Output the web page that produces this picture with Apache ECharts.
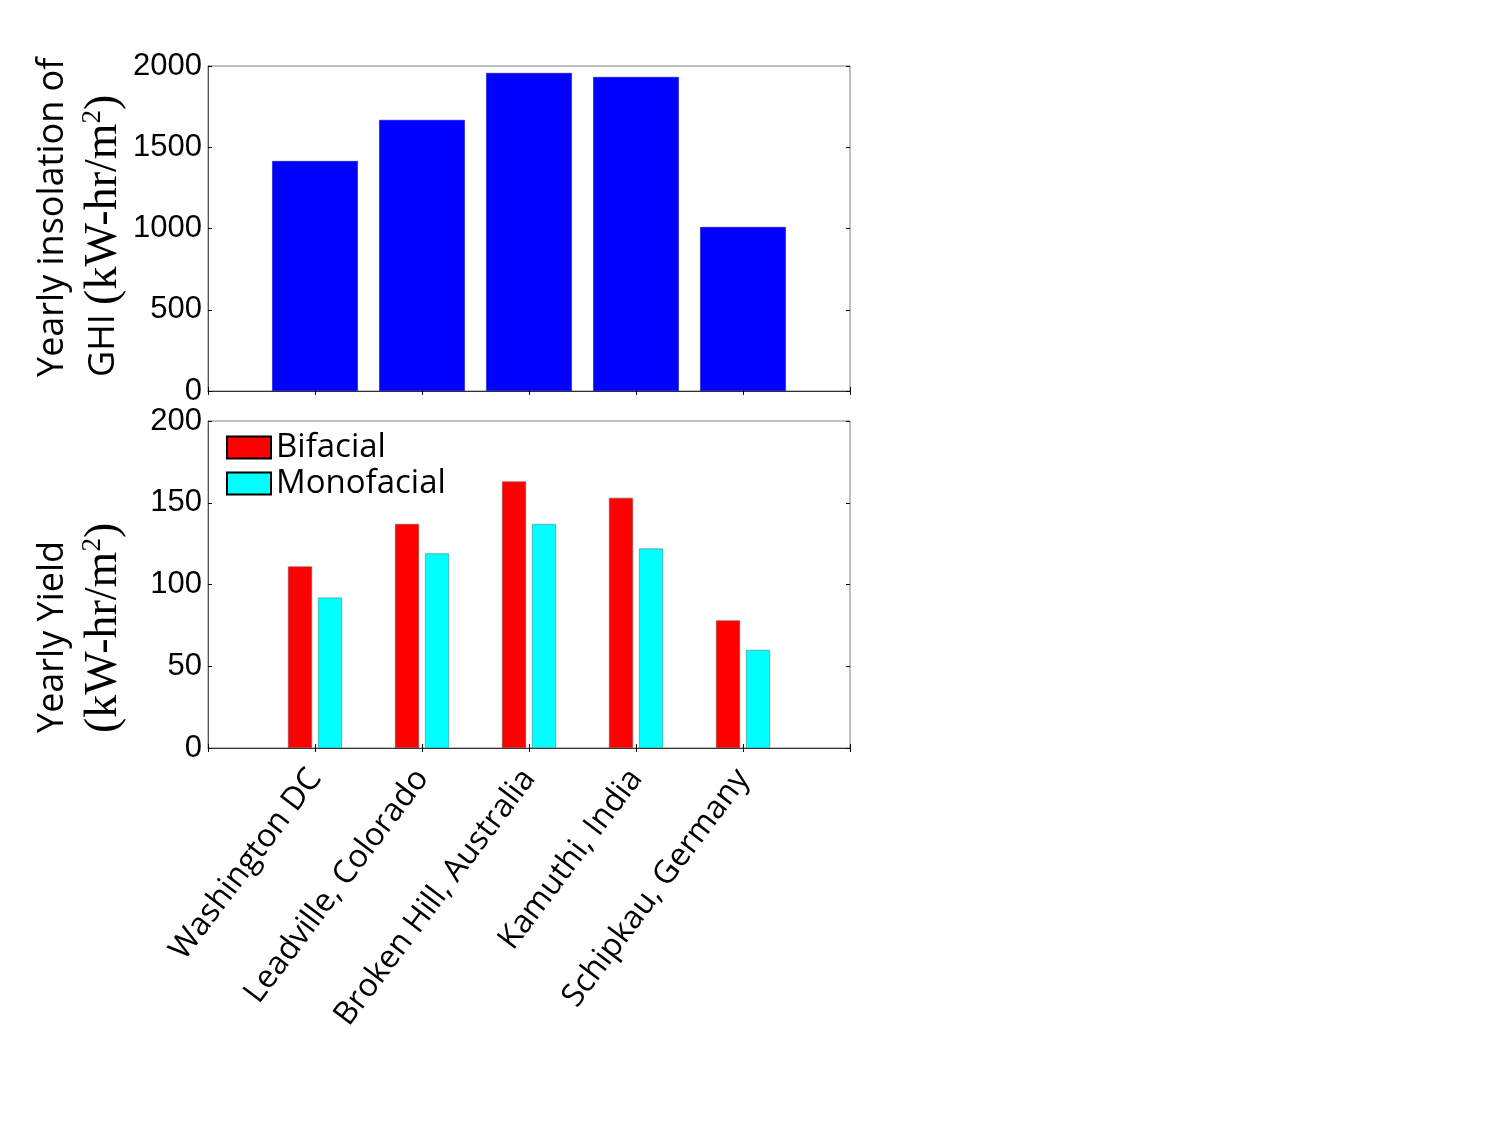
<!DOCTYPE html>
<html>
<head>
<meta charset="utf-8">
<script src="https://cdn.jsdelivr.net/npm/echarts@6/dist/echarts.min.js"></script>
<style>html,body{margin:0;padding:0;background:#fff}#c{width:1500px;height:1125px}</style>
</head>
<body>
<div id="c"></div>
<script>
// Data
const sites = ['Washington DC', 'Leadville, Colorado', 'Broken Hill, Australia', 'Kamuthi, India', 'Schipkau, Germany'];
const ghi = [1415, 1668, 1957, 1932, 1009];
const bifacial = [111, 137, 163, 153, 78];
const monofacial = [92, 119, 137, 122, 60];
const ghiTicks = { min: 0, max: 2000, interval: 500 };
const yieldTicks = { min: 0, max: 200, interval: 50 };

// category slots: one empty slot on each side (x-range 0..6, bars at 1..5)
const slots = [''].concat(sites, ['']);
const toPairs = arr => arr.map((v, i) => [i + 1, v]);

const chart = echarts.init(document.getElementById('c'), null, { renderer: 'canvas' });

const tickStyle = { show: true, inside: true, length: 4, lineStyle: { color: '#000', width: 1 } };
const labelFont = { fontFamily: 'Liberation Sans', fontSize: 31, color: '#000' };

function xAx(gridIndex, position, showLabel) {
  return {
    type: 'category', gridIndex, position, data: slots, boundaryGap: false,
    axisLine: { show: position === 'bottom', lineStyle: { color: '#333', width: 1 } },
    axisTick: Object.assign({ alignWithLabel: true, interval: 0 }, tickStyle),
    splitLine: { show: false },
    axisLabel: showLabel ? {
      show: true, interval: 0, rotate: 53, margin: 25,
      fontFamily: 'Open Sans', fontSize: 32, color: '#000'
    } : { show: false }
  };
}
function yAx(gridIndex, position, t, showLabel) {
  return Object.assign({
    type: 'value', gridIndex, position,
    axisLine: { show: position === 'left', lineStyle: { color: '#555', width: 1 } },
    axisTick: tickStyle,
    splitLine: { show: false },
    axisLabel: showLabel ? Object.assign({ show: true, margin: 6, formatter: v => String(v) }, labelFont) : { show: false }
  }, t);
}

const nameRich = {
  a: { fontFamily: 'Open Sans', fontSize: 36, lineHeight: 51, color: '#000' },
  b: { fontFamily: 'Liberation Serif', fontSize: 46, lineHeight: 51, color: '#000' },
  s: { fontFamily: 'Liberation Serif', fontSize: 27, lineHeight: 51, verticalAlign: 'top', padding: [1, 0, 0, 0], color: '#000' }
};

const option = {
  backgroundColor: '#fff',
  animation: false,
  grid: [
    { left: 208, top: 66, width: 642, height: 325, show: true, borderColor: '#808080', borderWidth: 1, backgroundColor: 'transparent' },
    { left: 208, top: 421, width: 642, height: 327, show: true, borderColor: '#808080', borderWidth: 1, backgroundColor: 'transparent' }
  ],
  legend: {
    show: true, orient: 'vertical', left: 226, top: 431, padding: 0,
    itemWidth: 44, itemHeight: 22, itemGap: 3, icon: 'rect',
    data: ['Bifacial', 'Monofacial'],
    itemStyle: { borderColor: '#000', borderWidth: 2 },
    textStyle: { fontFamily: 'Open Sans', fontSize: 33, color: '#000' }
  },
  xAxis: [
    xAx(0, 'bottom', false),
    xAx(1, 'bottom', true),
    xAx(0, 'top', false),
    xAx(1, 'top', false)
  ],
  yAxis: [
    yAx(0, 'left', ghiTicks, true),
    yAx(1, 'left', yieldTicks, true),
    yAx(0, 'right', ghiTicks, false),
    yAx(1, 'right', yieldTicks, false)
  ],
  series: [
    {
      name: 'GHI', type: 'bar', xAxisIndex: 0, yAxisIndex: 0,
      data: toPairs(ghi), barWidth: '80%',
      itemStyle: { color: '#0000ff', borderColor: '#0000cc', borderWidth: 0.5 }
    },
    {
      name: 'Bifacial', type: 'bar', xAxisIndex: 1, yAxisIndex: 1,
      data: toPairs(bifacial), barWidth: 24, barGap: '25%',
      itemStyle: { color: '#ff0000', borderColor: '#8a4a4a', borderWidth: 0.6 }
    },
    {
      name: 'Monofacial', type: 'bar', xAxisIndex: 1, yAxisIndex: 1,
      data: toPairs(monofacial), barWidth: 24, barGap: '25%',
      itemStyle: { color: '#00ffff', borderColor: '#3a8a8a', borderWidth: 0.6 }
    }
  ],
  graphic: [
    {
      type: 'text', x: 78, y: 377, rotation: Math.PI / 2,
      style: {
        text: '{a|Yearly insolation of}\n{a|GHI }{b|(kW-hr/m}{s|2}{b|)}',
        align: 'left', verticalAlign: 'middle', rich: nameRich
      }
    },
    {
      type: 'text', x: 78, y: 733, rotation: Math.PI / 2,
      style: {
        text: '{a|Yearly Yield}\n{b|(kW-hr/m}{s|2}{b|)}',
        align: 'left', verticalAlign: 'middle', rich: nameRich
      }
    }
  ]
};
chart.setOption(option);
</script>
</body>
</html>
